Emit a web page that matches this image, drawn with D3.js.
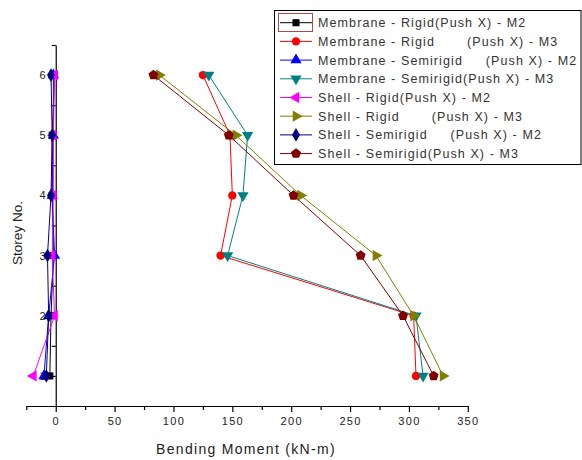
<!DOCTYPE html>
<html>
<head>
<meta charset="utf-8">
<script src="https://cdn.jsdelivr.net/npm/d3@7"></script>
<style>
  body { margin: 0; background: #fff; }
  svg { display: block; font-family: "Liberation Sans", Arial, sans-serif; }
  .legend text { white-space: pre; }
</style>
</head>
<body>
<svg id="svg" width="582" height="460"></svg>
<script>
// storey numbers (y) and bending moments (x) for each series
var storeys = [1, 2, 3, 4, 5, 6];

var memRigidM2 = [-5, -4, -2, -3, -3, -1];
var memRigidM3 = [306, 304, 140, 150, 148, 125];
var memSemiM2 = [-10, -6, -1, -3, -2, -2];
var memSemiM3 = [312, 306, 146, 159, 163, 130];
var shellRigidM2 = [-19, -1, -3, -2, -2, -1];
var shellRigidM3 = [329, 304, 272, 208, 153, 88];
var shellSemiM2 = [-8, -6, -7, -4, -3, -4];
var shellSemiM3 = [321, 295, 259, 202, 147, 83];

var seriesNames = [
    "Membrane - Rigid(Push X) - M2",
    "Membrane - Rigid       (Push X) - M3",
    "Membrane - Semirigid     (Push X) - M2",
    "Membrane - Semirigid(Push X) - M3",
    "Shell - Rigid(Push X) - M2",
    "Shell - Rigid       (Push X) - M3",
    "Shell - Semirigid     (Push X) - M2",
    "Shell - Semirigid(Push X) - M3"
];

var xTicks = [0, 50, 100, 150, 200, 250, 300, 350];
var xMinorTicks = [-25, 25, 75, 125, 175, 225, 275, 325];
var yTicks = [1, 2, 3, 4, 5, 6];
var yMinorTicks = [1.5, 2.5, 3.5, 4.5, 5.5, 6.5];

var xTitle = "Bending Moment (kN-m)";
var yTitle = "Storey No.";

// pentagon marker (d3 has none built in)
var symbolPentagon = {
    draw: function (ctx, size) {
        var r = Math.sqrt(size / 2.378);
        for (var i = 0; i < 5; i++) {
            var a = -Math.PI / 2 + i * 2 * Math.PI / 5;
            if (i === 0) ctx.moveTo(r * Math.cos(a), r * Math.sin(a));
            else ctx.lineTo(r * Math.cos(a), r * Math.sin(a));
        }
        ctx.closePath();
    }
};

var styles = [
    { color: "#000000", type: d3.symbolSquare, size: 50, rot: 0 },
    { color: "#ff0000", type: d3.symbolCircle, size: 55, rot: 0 },
    { color: "#0000ff", type: d3.symbolTriangle, size: 55, rot: 0 },
    { color: "#008080", type: d3.symbolTriangle, size: 55, rot: 180 },
    { color: "#ff00ff", type: d3.symbolTriangle, size: 55, rot: -90 },
    { color: "#808000", type: d3.symbolTriangle, size: 55, rot: 90 },
    { color: "#000080", type: d3.symbolDiamond, size: 55, rot: 0 },
    { color: "#800000", type: symbolPentagon, size: 65, rot: 0 }
];

var seriesValues = [memRigidM2, memRigidM3, memSemiM2, memSemiM3,
    shellRigidM2, shellRigidM3, shellSemiM2, shellSemiM3];

window.onload = function () {
    var svg = d3.select("svg");

    var xScale = d3.scaleLinear().domain([-25, 350]).range([26.3, 467.8]);
    var yScale = d3.scaleLinear().domain([0.5, 6.5]).range([406, 45]);

    // x axis
    var xAxis = d3.axisBottom(xScale)
        .tickValues(xTicks)
        .tickSize(6)
        .tickSizeOuter(0)
        .tickPadding(5)
        .tickFormat(function (d) { return d; });

    var gx = svg.append("g")
        .attr("transform", "translate(0,406)")
        .call(xAxis);

    svg.append("g")
        .attr("transform", "translate(0,406)")
        .call(d3.axisBottom(xScale).tickValues(xMinorTicks).tickSize(4).tickSizeOuter(0).tickFormat(""))
        .select(".domain").remove();

    gx.selectAll("text")
        .attr("font-size", 11)
        .attr("fill", "#222")
        .style("letter-spacing", "1.3px");

    // y axis
    var yAxis = d3.axisLeft(yScale)
        .tickValues(yTicks)
        .tickSize(5)
        .tickSizeOuter(0)
        .tickPadding(5)
        .tickFormat(function (d) { return d; });

    var gy = svg.append("g")
        .attr("transform", "translate(" + xScale(0) + ",0)")
        .call(yAxis);

    svg.append("g")
        .attr("transform", "translate(" + xScale(0) + ",0)")
        .call(d3.axisLeft(yScale).tickValues(yMinorTicks).tickSize(4).tickSizeOuter(0).tickFormat(""))
        .select(".domain").remove();

    gy.selectAll("text")
        .attr("font-size", 11)
        .attr("fill", "#222");

    svg.selectAll(".domain, .tick line").attr("stroke", "#000").attr("stroke-width", 1.2);

    // axis titles
    svg.append("text")
        .attr("x", 246)
        .attr("y", 454)
        .attr("text-anchor", "middle")
        .attr("font-size", 14)
        .attr("fill", "#222")
        .style("letter-spacing", "1.3px")
        .text(xTitle);

    svg.append("text")
        .attr("transform", "translate(22,233) rotate(-90)")
        .attr("text-anchor", "middle")
        .attr("font-size", 13.5)
        .attr("fill", "#222")
        .text(yTitle);

    // lines and markers
    var line = d3.line()
        .x(function (d) { return xScale(d.v); })
        .y(function (d) { return yScale(d.s); });

    var plot = svg.append("g");

    seriesValues.forEach(function (vals, i) {
        var pts = vals.map(function (v, j) { return { v: v, s: storeys[j] }; });
        var st = styles[i];

        plot.append("path")
            .datum(pts)
            .attr("fill", "none")
            .attr("stroke", st.color)
            .attr("stroke-width", 1)
            .attr("d", line);

        plot.selectAll(".m" + i)
            .data(pts)
            .enter()
            .append("path")
            .attr("class", "m" + i)
            .attr("d", d3.symbol().type(st.type).size(st.size))
            .attr("fill", st.color)
            .attr("transform", function (d) {
                return "translate(" + xScale(d.v) + "," + yScale(d.s) + ") rotate(" + st.rot + ")";
            });
    });

    // legend
    var legend = svg.append("g").attr("class", "legend");

    legend.append("rect")
        .attr("x", 274.5)
        .attr("y", 10.5)
        .attr("width", 306.5)
        .attr("height", 154)
        .attr("fill", "#fff")
        .attr("stroke", "#000")
        .attr("stroke-width", 1);

    legend.append("rect")
        .attr("x", 278.5)
        .attr("y", 13.5)
        .attr("width", 34)
        .attr("height", 18)
        .attr("fill", "none")
        .attr("stroke", "#b04848")
        .attr("stroke-width", 1);

    var rows = legend.selectAll(".row")
        .data(seriesNames)
        .enter()
        .append("g")
        .attr("class", "row")
        .attr("transform", function (d, i) { return "translate(0," + (22.7 + i * 18.7) + ")"; });

    rows.append("line")
        .attr("x1", 280)
        .attr("x2", 312)
        .attr("stroke", function (d, i) { return styles[i].color; })
        .attr("stroke-width", 1);

    rows.append("path")
        .attr("d", function (d, i) { return d3.symbol().type(styles[i].type).size(styles[i].size)(); })
        .attr("fill", function (d, i) { return styles[i].color; })
        .attr("transform", function (d, i) { return "translate(296,0) rotate(" + styles[i].rot + ")"; });

    rows.append("text")
        .attr("x", 318)
        .attr("dy", "0.36em")
        .attr("font-size", 12.5)
        .attr("fill", "#333")
        .style("letter-spacing", "1.1px")
        .text(function (d) { return d; });
};
</script>
</body>
</html>
